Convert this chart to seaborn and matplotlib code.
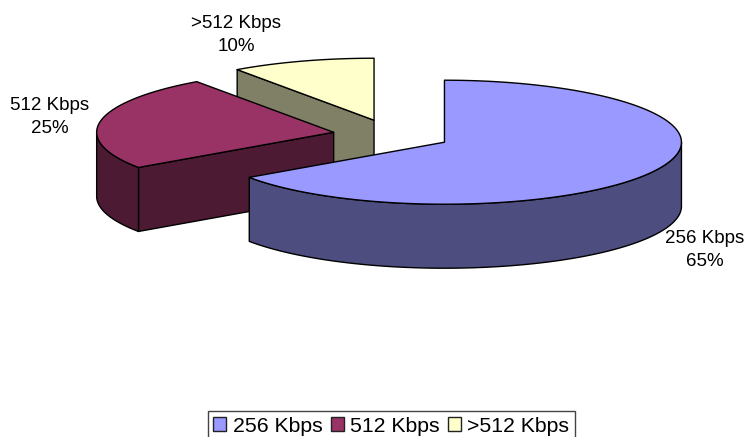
# plot.py - exploded 3D style pie drawn on pixel axes
import numpy as np
import seaborn as sns
import matplotlib.pyplot as plt
from matplotlib.patches import Patch, Polygon

# -----------------------------
# Data
# -----------------------------
categories = ["256 Kbps", "512 Kbps", ">512 Kbps"]
shares = [65.4, 24.8, 9.8]  # labels show them rounded

top_colors = ["#9999FF", "#993366", "#FFFFCC"]
wall_colors = ["#4D4D80", "#4D1A33", "#808066"]

# -----------------------------
# Layout (pixels)
# -----------------------------
WIDTH, HEIGHT = 746, 437
CX, CY = 392, 135      # pie centre before exploding
RX, RY = 237, 62       # ellipse radii of the top face
DEPTH = 64             # height of the side walls
EXPLODE = 0.25
LABEL_XY = [(705, 250), (50, 117), (236, 35)]

sns.set_theme(style="white")
plt.rcParams["font.family"] = ["Liberation Sans", "DejaVu Sans"]

fig, ax = plt.subplots(figsize=(WIDTH / 100, HEIGHT / 100), dpi=100)
ax.set_position([0, 0, 1, 1])
ax.set_xlim(0, WIDTH)
ax.set_ylim(HEIGHT, 0)
ax.axis("off")


def rim(a0, a1, cx, cy, drop=0):
    # points along the ellipse, angles in degrees (counter clockwise on screen)
    t = np.radians(np.linspace(a0, a1, 200))
    return np.column_stack([cx + RX * np.cos(t), cy - RY * np.sin(t) + drop])


def poly(pts, color, z):
    ax.add_patch(Polygon(pts, closed=True, facecolor=color, edgecolor="black",
                         linewidth=1.0, joinstyle="round", zorder=z))


# slices run clockwise from 12 o'clock
fracs = np.array(shares) / sum(shares)
edges = 90 - 360 * np.concatenate([[0], np.cumsum(fracs)])

# back slice first so the front ones cover it
for i in [2, 1, 0]:
    a_start, a_end = edges[i], edges[i + 1]
    mid = np.radians((a_start + a_end) / 2)
    cx = CX + EXPLODE * RX * np.cos(mid)
    cy = CY - EXPLODE * RY * np.sin(mid)
    z = 10 - 3 * i
    apex = np.array([cx, cy])
    down = np.array([0, DEPTH])

    # flat cut wall facing the viewer, on the clockwise start edge
    if i > 0:
        start_pt = rim(a_start, a_start, cx, cy)[0]
        poly([apex, start_pt, start_pt + down, apex + down], wall_colors[i], z)

    # outer curved wall, only the front half of the ellipse shows
    lo, hi = a_end, a_start
    s, e = max(lo, -180), min(hi, 0)
    if s < e:
        upper = rim(s, e, cx, cy)
        lower = rim(e, s, cx, cy, DEPTH)
        poly(np.vstack([upper, lower]), wall_colors[i], z + 1)

    # top face
    poly(np.vstack([apex, rim(a_start, a_end, cx, cy)]), top_colors[i], z + 2)

for name, share, (lx, ly) in zip(categories, shares, LABEL_XY):
    ax.text(lx, ly, f"{name}\n{share:.0f}%", ha="center", va="center",
            fontsize=13.5, color="black", linespacing=1.5, zorder=20)

handles = [Patch(facecolor=c, edgecolor="#222222", linewidth=1.0) for c in top_colors]
leg = ax.legend(handles, categories, ncol=3, loc="lower left",
                bbox_to_anchor=(208, 441), bbox_transform=ax.transData,
                borderaxespad=0, fontsize=15.3, frameon=True, fancybox=False,
                handlelength=0.62, handleheight=0.62, handletextpad=0.3,
                columnspacing=0.38, borderpad=0.25, labelcolor="black")
leg.get_frame().set_edgecolor("#444444")
leg.get_frame().set_linewidth(1.0)
leg.get_frame().set_alpha(1)

plt.savefig("out.png", dpi=100)
plt.close()
